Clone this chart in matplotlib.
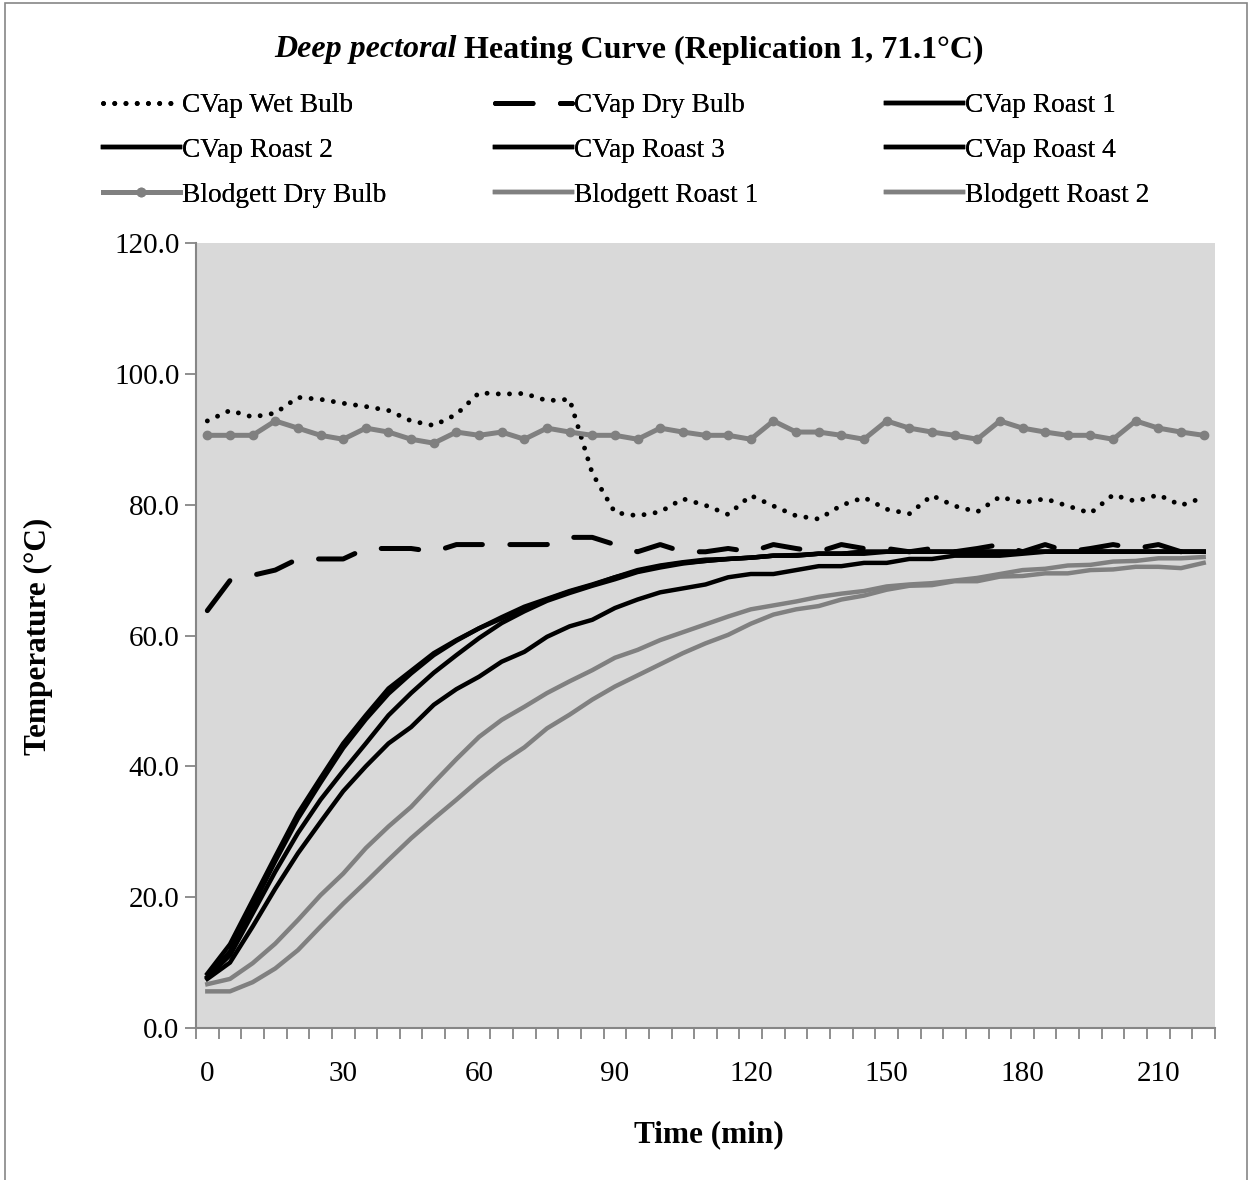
import matplotlib
matplotlib.use("Agg")
import matplotlib.pyplot as plt
from matplotlib.patches import Rectangle

plt.rcParams['font.family'] = ['Liberation Serif', 'DejaVu Serif']

# time categories (min)
times = list(range(0, 225, 5))

cvap_wet_bulb = [92.8, 94.4, 93.4, 94.0, 96.4, 96.1, 95.5, 95.0, 94.4, 92.8,
                 92.1, 93.8, 97.1, 96.9, 97.0, 95.9, 96.1, 84.8, 78.8, 78.3,
                 78.9, 80.9, 79.9, 78.5, 81.4, 79.8, 78.3, 77.8, 79.9, 81.1,
                 79.3, 78.6, 81.4, 79.8, 78.9, 81.2, 80.3, 80.9, 79.8, 78.7,
                 81.5, 80.5, 81.5, 79.9, 81.1]
cvap_dry_bulb = [63.8, 68.4, 69.2, 70.0, 71.7, 71.7, 71.7, 73.3, 73.3, 73.3,
                 72.8, 73.9, 73.9, 73.9, 73.9, 73.9, 75.0, 75.0, 73.9, 72.8,
                 73.9, 72.8, 72.8, 73.3, 72.8, 73.9, 73.3, 72.8, 73.9, 73.3,
                 73.3, 72.8, 73.3, 72.8, 73.3, 73.9, 72.8, 73.9, 72.8, 73.3,
                 73.9, 73.3, 73.9, 72.8, 73.9]
cvap_roast1 = [8.3, 12.8, 19.5, 26.2, 32.8, 38.2, 43.5, 47.8, 51.9, 54.6,
               57.3, 59.3, 61.1, 62.6, 64.2, 65.5, 66.7, 67.7, 68.9, 70.0,
               70.7, 71.2, 71.6, 71.7, 71.9, 72.2, 72.3, 72.5, 72.5, 72.8,
               72.8, 72.8, 72.8, 72.8, 72.8, 72.8, 72.8, 72.8, 72.8, 72.8,
               72.8, 72.8, 72.8, 72.8, 72.8]
cvap_roast2 = [7.8, 11.7, 18.6, 25.5, 32.0, 37.5, 42.8, 47.2, 51.1, 54.2,
               57.0, 59.2, 61.1, 62.8, 64.4, 65.6, 66.8, 67.8, 68.9, 69.8,
               70.6, 71.1, 71.4, 71.7, 71.9, 72.2, 72.2, 72.5, 72.5, 72.5,
               72.8, 72.8, 72.8, 72.8, 72.8, 72.8, 72.8, 72.8, 72.8, 72.8,
               72.8, 72.8, 72.8, 72.8, 72.8]
cvap_roast3 = [7.8, 11.1, 17.5, 23.9, 29.8, 34.9, 39.3, 43.5, 47.8, 51.2,
               54.3, 57.0, 59.6, 61.9, 63.7, 65.3, 66.5, 67.6, 68.6, 69.7,
               70.4, 71.0, 71.4, 71.7, 71.9, 72.2, 72.2, 72.5, 72.5, 72.8,
               72.8, 72.8, 72.8, 72.8, 72.8, 72.8, 72.8, 72.8, 72.8, 72.8,
               72.8, 72.8, 72.8, 72.8, 72.8]
cvap_roast4 = [7.5, 10.0, 15.5, 21.3, 26.7, 31.5, 36.2, 40.0, 43.5, 46.0,
               49.4, 51.8, 53.7, 56.0, 57.5, 59.8, 61.4, 62.4, 64.2, 65.5,
               66.6, 67.2, 67.8, 68.9, 69.4, 69.4, 70.0, 70.6, 70.6, 71.1,
               71.1, 71.7, 71.7, 72.2, 72.2, 72.2, 72.5, 72.8, 72.8, 72.8,
               72.8, 72.8, 72.8, 72.8, 72.8]
blodgett_dry_bulb = [90.6, 90.6, 90.6, 92.8, 91.7, 90.6, 90.0, 91.7, 91.1, 90.0,
                     89.4, 91.1, 90.6, 91.1, 90.0, 91.7, 91.1, 90.6, 90.6, 90.0,
                     91.7, 91.1, 90.6, 90.6, 90.0, 92.8, 91.1, 91.1, 90.6, 90.0,
                     92.8, 91.7, 91.1, 90.6, 90.0, 92.8, 91.7, 91.1, 90.6, 90.6,
                     90.0, 92.8, 91.7, 91.1, 90.6]
blodgett_roast1 = [6.7, 7.5, 9.9, 12.9, 16.5, 20.3, 23.6, 27.5, 30.8, 33.8,
                   37.5, 41.1, 44.5, 47.1, 49.1, 51.2, 53.0, 54.7, 56.6, 57.8,
                   59.3, 60.5, 61.7, 62.9, 64.0, 64.6, 65.2, 65.9, 66.4, 66.8,
                   67.5, 67.8, 68.0, 68.4, 68.8, 69.4, 70.0, 70.2, 70.7, 70.8,
                   71.3, 71.4, 71.8, 71.8, 72.0]
blodgett_roast2 = [5.6, 5.6, 7.0, 9.1, 11.9, 15.5, 19.0, 22.3, 25.7, 29.0,
                   32.0, 34.9, 37.9, 40.6, 42.9, 45.8, 47.9, 50.2, 52.2, 53.9,
                   55.6, 57.3, 58.8, 60.1, 61.8, 63.2, 64.0, 64.5, 65.5, 66.1,
                   67.0, 67.6, 67.7, 68.3, 68.3, 69.0, 69.1, 69.5, 69.5, 70.0,
                   70.1, 70.5, 70.5, 70.3, 71.1]

x_labels = [0, 30, 60, 90, 120, 150, 180, 210]
y_ticks = [0, 20, 40, 60, 80, 100, 120]

W, H = 1253, 1180
fig = plt.figure(figsize=(W / 100, H / 100), dpi=100)
ax = fig.add_axes([196 / W, 1 - 1028 / H, (1215 - 196) / W, (1028 - 243) / H])
ax.set_facecolor('#D9D9D9')

gray = '#808080'
axis_gray = '#868686'

h_wet, = ax.plot(times, cvap_wet_bulb, color='black', lw=3.5,
                 linestyle=(0, (0.01, 2.3)), dash_capstyle='round', label='CVap Wet Bulb')
h_dry, = ax.plot(times, cvap_dry_bulb, color='black', lw=3.6,
                 linestyle=(0, (7.5, 5.5)), dash_capstyle='round', solid_joinstyle='round',
                 label='CVap Dry Bulb')
h_r1, = ax.plot(times, cvap_roast1, color='black', lw=3.2, label='CVap Roast 1')
h_r2, = ax.plot(times, cvap_roast2, color='black', lw=3.2, label='CVap Roast 2')
h_r3, = ax.plot(times, cvap_roast3, color='black', lw=3.2, label='CVap Roast 3')
h_r4, = ax.plot(times, cvap_roast4, color='black', lw=3.2, label='CVap Roast 4')
h_bd, = ax.plot(times, blodgett_dry_bulb, color=gray, lw=3.6, marker='o', ms=6,
                label='Blodgett Dry Bulb')
h_b1, = ax.plot(times, blodgett_roast1, color=gray, lw=3.2, label='Blodgett Roast 1')
h_b2, = ax.plot(times, blodgett_roast2, color=gray, lw=3.2, label='Blodgett Roast 2')

ax.set_xlim(-2.5, 222.5)
ax.set_ylim(0, 120)

# y axis
ax.set_yticks(y_ticks)
ax.set_yticklabels([f'{v:.1f}' for v in y_ticks], fontsize=21)
ax.tick_params(axis='y', direction='out', length=8, width=1.3, color=axis_gray, pad=4)

# x axis: tick marks on category boundaries, labels centred on categories
ax.set_xticks([t - 2.5 for t in times] + [222.5])
ax.set_xticklabels([])
ax.tick_params(axis='x', which='major', direction='out', length=8, width=1.3, color=axis_gray)
ax.set_xticks(x_labels, minor=True)
ax.set_xticklabels([str(v) for v in x_labels], minor=True, fontsize=21)
ax.tick_params(axis='x', which='minor', length=0, pad=24)

for side in ['top', 'right']:
    ax.spines[side].set_visible(False)
for side in ['left', 'bottom']:
    ax.spines[side].set_color(axis_gray)
    ax.spines[side].set_linewidth(1.5)

fig.text(38 / W, 1 - 636 / H, 'Temperature (\u00b0C)', rotation=90, fontsize=22.5,
         fontweight='bold', ha='center', va='center')
fig.text(709 / W, 1 - 1135 / H, 'Time (min)', fontsize=22.5, fontweight='bold',
         ha='center', va='center')

# title with italic part
renderer = fig.canvas.get_renderer()
t1 = fig.text(0, 1 - 50 / H, 'Deep pectoral', fontsize=23, fontweight='bold',
              fontstyle='italic', va='center', ha='left')
t2 = fig.text(0, 1 - 50 / H, ' Heating Curve (Replication 1, 71.1\u00b0C)', fontsize=23,
              fontweight='bold', va='center', ha='left')
w1 = t1.get_window_extent(renderer).width
w2 = t2.get_window_extent(renderer).width
x0 = 629 - (w1 + w2) / 2
t1.set_x(x0 / W)
t2.set_x((x0 + w1) / W)

# legend, three columns placed like the original
cols = [[h_wet, h_r2, h_bd], [h_dry, h_r3, h_b1], [h_r1, h_r4, h_b2]]
col_x = [103, 495, 886]
for hs, cx in zip(cols, col_x):
    leg = fig.legend(handles=hs, loc='upper left', bbox_to_anchor=(cx / W, 1 - 93 / H),
                     frameon=False, fontsize=19.7, handlelength=2.8, handletextpad=0.1,
                     labelspacing=0.72, borderpad=0, borderaxespad=0)
    fig.add_artist(leg)

fig.patches.append(Rectangle((5 / W, -10 / H), 1242 / W, 1187 / H, transform=fig.transFigure,
                             fill=False, edgecolor=axis_gray, lw=1.2))

fig.savefig('out.png', dpi=100)
